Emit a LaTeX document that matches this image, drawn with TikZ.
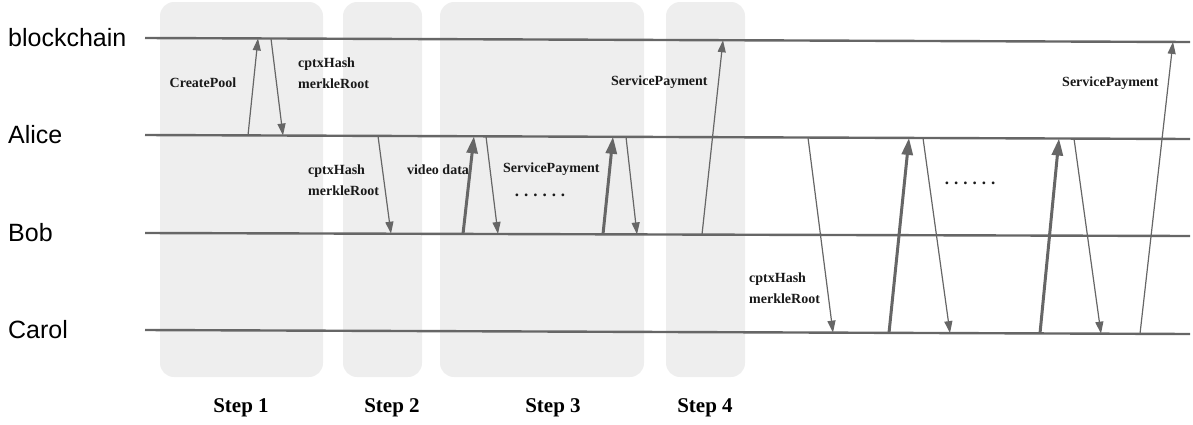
\documentclass[tikz,border=0pt]{standalone}
\usepackage{fontspec}
\setmainfont{Liberation Serif}
\newfontfamily\lifefont{Liberation Sans}
\usepackage{tikz}
\usetikzlibrary{arrows.meta,calc}
\definecolor{stepgray}{HTML}{EEEEEE}
\definecolor{linegray}{HTML}{666666}
\tikzset{
  lifeline/.style={line width=2.4pt,draw=linegray},
  msg/.style={-{Triangle[length=12pt,width=8pt]},line width=1.2pt,draw=linegray},
  data/.style={-{Triangle[length=17pt,width=11pt]},line width=3pt,draw=linegray},
  steparea/.style={fill=stepgray,rounded corners=14pt},
  who/.style={font=\lifefont\fontsize{25}{30}\selectfont,anchor=west,inner sep=0pt},
  note/.style={font=\bfseries\fontsize{14}{21}\selectfont,align=left,inner sep=0pt,text=black!90},
  steplabel/.style={font=\bfseries\fontsize{21}{25}\selectfont,inner sep=0pt}
}
\newcommand{\moredots}{{\fontsize{17}{20}\selectfont.\kern5pt.\kern5pt.\kern5pt.\kern5pt.\kern5pt.}}

\begin{document}
\begin{tikzpicture}[x=1pt,y=-1pt]
  \useasboundingbox (0,0) rectangle (1193,424);
  % step areas
  \foreach \l/\r/\cx/\n in {160/323/241/1, 343/422/392/2, 440/644/553/3, 666/745/705/4} {
    \fill[steparea] (\l,2) rectangle (\r,377);
    \node[steplabel] (step\n) at (\cx,408) {Step \n};
  }
  % lifelines
  \foreach \who/\yl/\yr/\name in {chain/38/42/blockchain, alice/135/139/Alice,
                                  bob/233/236/Bob, carol/330/334/Carol} {
    \node[who] (\who) at (8,\yl) {\name};
    \coordinate (\who-w) at (145,\yl);
    \coordinate (\who-e) at (1190,\yr);
    \draw[lifeline] (\who-w) -- (\who-e);
  }
  % messages
  \foreach \fl/\fx/\tl/\tx/\kind [count=\i] in {
      alice/248/chain/258/msg, chain/271/alice/283/msg, alice/378/bob/391/msg,
      bob/463/alice/474/data, alice/486/bob/498/msg, bob/603/alice/613/data,
      alice/626/bob/637/msg, bob/702/chain/723/msg,
      alice/808/carol/833/msg, carol/889/alice/909/data, alice/923/carol/950/msg,
      carol/1040/alice/1059/data, alice/1074/carol/1101/msg, carol/1140/chain/1173/msg} {
    \coordinate (from\i) at ($(\fl-w)!{(\fx-145)/1045}!(\fl-e)$);
    \coordinate (to\i) at ($(\tl-w)!{(\tx-145)/1045}!(\tl-e)$);
    \draw[\kind] (from\i) -- (to\i);
  }
  % labels
  \node[note] (createpool) at (203,83) {CreatePool};
  \node[note,anchor=west] (roots1) at (298,73) {cptxHash\\merkleRoot};
  \node[note,anchor=west] (roots2) at (308,180) {cptxHash\\merkleRoot};
  \node[note] (video) at (438,170) {video data};
  \node[note,anchor=west] (pay1) at (503,169) {ServicePayment};
  \node[note] (dots1) at (540,195) {\moredots};
  \node[note,anchor=west] (pay2) at (611,82) {ServicePayment};
  \node[note,anchor=west] (roots3) at (749,288) {cptxHash\\merkleRoot};
  \node[note] (dots2) at (970,183) {\moredots};
  \node[note,anchor=west] (pay3) at (1062,83) {ServicePayment};
\end{tikzpicture}
\end{document}
